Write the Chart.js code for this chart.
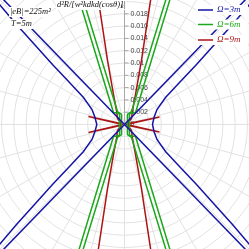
<!DOCTYPE html>
<html>
<head>
<meta charset="utf-8">
<script src="https://cdn.jsdelivr.net/npm/chart.js@4/dist/chart.umd.min.js"></script>
<style>
html, body { margin: 0; padding: 0; background: #fff; }
canvas { display: block; }
</style>
</head>
<body>
<canvas id="chart" width="249" height="249"></canvas>
<script>
// radial axis
let radialTicks = [0, 0.002, 0.004, 0.006, 0.008, 0.01, 0.012, 0.014, 0.016, 0.018]
let tickLabels = ['0', '0.002', '0.004', '0.006', '0.008', '0.01', '0.012', '0.014', '0.016', '0.018']
let gridRadii = [0.002, 0.004, 0.006, 0.008, 0.01, 0.012, 0.014, 0.016, 0.018, 0.02, 0.022, 0.024, 0.026, 0.028, 0.03]
let spokeAngles = [0, 15, 30, 45, 60, 75, 90, 105, 120, 135, 150, 165, 180, 195, 210, 225, 240, 255, 270, 285, 300, 315, 330, 345]

let seriesNames = ['Ω=3m', 'Ω=6m', 'Ω=9m']

// Ω=3m, points as [x, y] on the polar plane
let blueRight = [[0.02309, -0.02276], [0.02033, -0.01951], [0.01756, -0.01626], [0.01463, -0.01301], [0.01171, -0.00976],
                 [0.00894, -0.00683], [0.00667, -0.00439], [0.00528, -0.00244], [0.0048, -0.00114], [0.00455, 0],
                 [0.0048, 0.00114], [0.00528, 0.00244], [0.00667, 0.00439], [0.00894, 0.00683], [0.01171, 0.00976],
                 [0.01463, 0.01301], [0.01756, 0.01626], [0.02033, 0.01951], [0.02309, 0.02276]]
let blueLeft = [[-0.02309, -0.02276], [-0.02033, -0.01951], [-0.01756, -0.01626], [-0.01463, -0.01301], [-0.01171, -0.00976],
                [-0.00894, -0.00683], [-0.00667, -0.00439], [-0.00528, -0.00244], [-0.0048, -0.00114], [-0.00450, 0],
                [-0.0048, 0.00114], [-0.00528, 0.00244], [-0.00667, 0.00439], [-0.00894, 0.00683], [-0.01171, 0.00976],
                [-0.01463, 0.01301], [-0.01756, 0.01626], [-0.02033, 0.01951], [-0.02309, 0.02276]]
let blueCrossA = [[-0.02088, 0.02155], [0, 0], [0.02088, -0.02155]]
let blueCrossB = [[0.02088, 0.02155], [0, 0], [-0.02088, -0.02155]]

// Ω=6m
let greenOuterLeft = [[-0.00813, 0.02276], [-0.00179, 0.00195], [-0.00081, 0.00179], [-0.00081, -0.00179], [-0.00179, -0.00195], [-0.00813, -0.02276]]
let greenInnerLeft = [[-0.00748, 0.02276], [-0.00114, 0.00211], [-0.00049, 0.00163], [-0.00049, -0.00163], [-0.00114, -0.00211], [-0.00748, -0.02276]]
let greenOuterRight = [[0.00813, 0.02276], [0.00179, 0.00195], [0.00081, 0.00179], [0.00081, -0.00179], [0.00179, -0.00195], [0.00813, -0.02276]]
let greenInnerRight = [[0.00748, 0.02276], [0.00114, 0.00211], [0.00049, 0.00163], [0.00049, -0.00163], [0.00114, -0.00211], [0.00748, -0.02276]]

// Ω=9m
let redLeft = [[-0.00463, 0.02276], [-0.00423, 0.02016], [-0.00276, 0.01041], [-0.00179, 0.00488], [-0.0013, 0.00228], [-0.00114, 0.00098],
               [-0.00049, 0.00013], [-0.00585, 0.0013], [-0.00049, 0.00005], [-0.00049, -0.00005], [-0.00585, -0.0013], [-0.00049, -0.00013],
               [-0.00114, -0.00098], [-0.0013, -0.00228], [-0.00179, -0.00488], [-0.00276, -0.01041], [-0.00423, -0.02016], [-0.00463, -0.02276]]
let redRight = [[0.00463, 0.02276], [0.00423, 0.02016], [0.00276, 0.01041], [0.00179, 0.00488], [0.0013, 0.00228], [0.00114, 0.00098],
                [0.00049, 0.00013], [0.00569, 0.00122], [0.00049, 0.00005], [0.00049, -0.00005], [0.00569, -0.00122], [0.00049, -0.00013],
                [0.00114, -0.00098], [0.0013, -0.00228], [0.00179, -0.00488], [0.00276, -0.01041], [0.00423, -0.02016], [0.00463, -0.02276]]

let blueColor = '#1414a6', greenColor = '#1ca81c', redColor = '#ac1414'
let seriesColors = [blueColor, greenColor, redColor]
let half = 0.020244

function curve(points, color)
{
    return {
        data: points.map(p => ({x: p[0], y: p[1]})),
        showLine: true,
        borderColor: color,
        borderWidth: 1.5,
        pointRadius: 0,
        fill: false,
        tension: 0
    }
}

// polar grid + radial axis, drawn under the curves
let polarGrid = {
    id: 'polarGrid',
    beforeDatasetsDraw(chart)
    {
        let ctx = chart.ctx
        let xs = chart.scales.x, ys = chart.scales.y
        let cx = xs.getPixelForValue(0), cy = ys.getPixelForValue(0)
        ctx.save()
        ctx.strokeStyle = '#e2e2e2'
        ctx.lineWidth = 1
        gridRadii.forEach(r => {
            ctx.beginPath()
            ctx.arc(cx, cy, xs.getPixelForValue(r) - cx, 0, Math.PI * 2)
            ctx.stroke()
        })
        let rOut = xs.getPixelForValue(0.03) - cx
        spokeAngles.forEach(a => {
            let t = a * Math.PI / 180
            ctx.beginPath()
            ctx.moveTo(cx, cy)
            ctx.lineTo(cx + rOut * Math.cos(t), cy - rOut * Math.sin(t))
            ctx.stroke()
        })

        // vertical axis with ticks
        ctx.strokeStyle = '#a8a8a8'
        ctx.beginPath()
        ctx.moveTo(cx, cy)
        ctx.lineTo(cx, 0)
        ctx.stroke()
        ctx.fillStyle = '#444'
        ctx.font = '7px "Liberation Sans", Arial, sans-serif'
        ctx.textBaseline = 'middle'
        ctx.textAlign = 'left'
        radialTicks.forEach((r, i) => {
            let py = ys.getPixelForValue(r)
            ctx.beginPath()
            ctx.moveTo(cx, py)
            ctx.lineTo(cx + 4, py)
            ctx.stroke()
            ctx.fillText(tickLabels[i], cx + 6, py)
        })
        ctx.restore()
    }
}

function boxedText(ctx, text, x, y, color)
{
    let w = ctx.measureText(text).width
    ctx.fillStyle = '#fff'
    ctx.fillRect(x - 1, y - 5, w + 2, 10)
    ctx.fillStyle = color
    ctx.fillText(text, x, y)
}

// labels and legend on top
let annotations = {
    id: 'annotations',
    afterDatasetsDraw(chart)
    {
        let ctx = chart.ctx
        ctx.save()
        ctx.textBaseline = 'middle'
        ctx.textAlign = 'left'
        ctx.font = 'italic 8.5px "Liberation Serif", "Times New Roman", serif'
        boxedText(ctx, '|eB|=225m²', 10, 12, '#111')
        boxedText(ctx, 'T=5m', 11, 24, '#111')
        boxedText(ctx, 'd²R/[w²kdkd(cosθ)]|', 57, 5, '#111')
        ctx.font = 'italic 5.5px "Liberation Serif", serif'
        ctx.fillStyle = '#111'
        ctx.fillText('k', 121, 7)

        ctx.font = 'italic 9px "Liberation Serif", "Times New Roman", serif'
        let rowY = [10, 24.5, 40]
        seriesNames.forEach((name, i) => {
            ctx.fillStyle = '#fff'
            ctx.fillRect(196, rowY[i] - 5, 52, 10)
            ctx.strokeStyle = seriesColors[i]
            ctx.lineWidth = 1.5
            ctx.beginPath()
            ctx.moveTo(198, rowY[i])
            ctx.lineTo(213, rowY[i])
            ctx.stroke()
            ctx.fillStyle = seriesColors[i]
            ctx.fillText(name, 217, rowY[i])
        })
        ctx.restore()
    }
}

let chart = new Chart(document.getElementById('chart').getContext('2d'), {
    type: 'scatter',
    data: {
        datasets: [
            curve(blueRight, blueColor),
            curve(blueLeft, blueColor),
            curve(blueCrossA, blueColor),
            curve(blueCrossB, blueColor),
            curve(greenOuterLeft, greenColor),
            curve(greenInnerLeft, greenColor),
            curve(greenOuterRight, greenColor),
            curve(greenInnerRight, greenColor),
            curve(redLeft, redColor),
            curve(redRight, redColor)
        ]
    },
    options: {
        responsive: false,
        animation: false,
        layout: { padding: 0 },
        plugins: { legend: { display: false }, tooltip: { enabled: false } },
        scales: {
            x: { type: 'linear', min: -half, max: half, display: false },
            y: { type: 'linear', min: -half, max: half, display: false }
        }
    },
    plugins: [polarGrid, annotations]
})
</script>
</body>
</html>
